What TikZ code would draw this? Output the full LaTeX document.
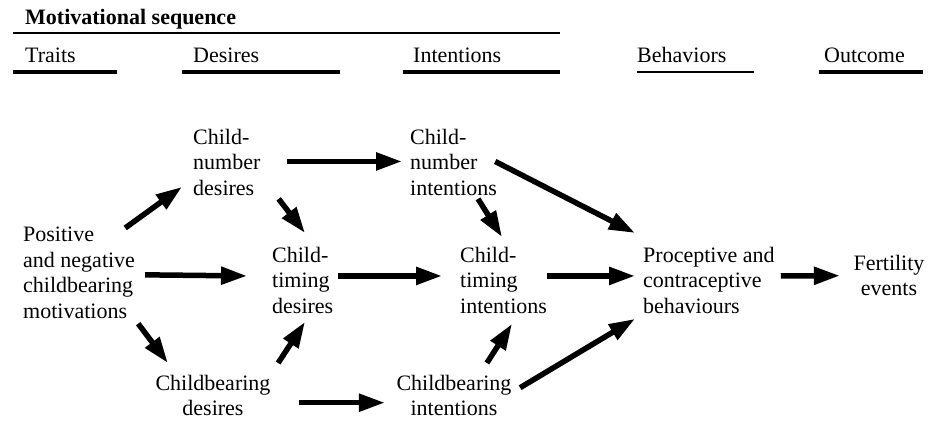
\documentclass[tikz,border=0pt]{standalone}
\usepackage{fontspec}
\setmainfont{Liberation Serif}
\usetikzlibrary{arrows.meta}

\begin{document}
\begin{tikzpicture}[x=1pt,y=-1pt,
  lbl/.style={font=\fontsize{22}{25.5}\selectfont, inner sep=0pt, align=left, anchor=north west},
  clbl/.style={lbl, align=center, anchor=north},
  hdr/.style={font=\fontsize{22}{25.5}\selectfont, inner sep=0pt, anchor=base west},
  arr/.style={line width=5.5pt, -{Triangle[length=26pt,width=17pt]}}]
\useasboundingbox (0,0) rectangle (933,420);

\node[hdr,font=\fontsize{22}{25.5}\selectfont\bfseries] (title) at (25,25) {Motivational sequence};
\node[hdr] (traits) at (25,63) {Traits};
\node[hdr] (desires) at (193,63) {Desires};
\node[hdr] (intentions) at (413,63) {Intentions};
\node[hdr] (behaviors) at (637,63) {Behaviors};
\node[hdr] (outcome) at (824,63) {Outcome};

\path[draw,line width=1.5pt] (13,33) -- (560,33);
\path[draw,line width=4pt] (13,72) -- (117,72);
\path[draw,line width=4pt] (182,72) -- (340,72);
\path[draw,line width=4pt] (403,72) -- (560,72);
\path[draw,line width=2.5pt] (637,72) -- (754,72);
\path[draw,line width=4.5pt] (819,72) -- (923,72);

\node[lbl] (motiv) at (23,227) {Positive\\and negative\\childbearing\\motivations};
\node[lbl] (numdes) at (193,129) {Child-\\number\\desires};
\node[lbl] (timdes) at (272,247) {Child-\\timing\\desires};
\node[clbl] (beardes) at (213,375) {Childbearing\\desires};
\node[lbl] (numint) at (410,129) {Child-\\number\\intentions};
\node[lbl] (timint) at (460,247) {Child-\\timing\\intentions};
\node[clbl] (bearint) at (454,375) {Childbearing\\intentions};
\node[lbl] (pro) at (643,247) {Proceptive and\\contraceptive\\behaviours};
\node[clbl] (fert) at (889,255) {Fertility\\events};

\path[draw,arr] ([shift={(-10,1)}]motiv.north east) -- ([shift={(-11,-9)}]numdes.south west);
\path[draw,arr] ([shift={(10,2)}]motiv.east) -- ([shift={(-25,-4.5)}]timdes.west);
\path[draw,arr] ([shift={(3,5)}]motiv.south east) -- ([shift={(12.5,-12)}]beardes.north west);
\path[draw,arr] ([shift={(18,3)}]numdes.south east) -- ([shift={(33,-14)}]timdes.north west);
\path[draw,arr] ([shift={(7.5,-12)}]beardes.north east) -- ([shift={(33,8)}]timdes.south west);
\path[draw,arr] ([shift={(26,-1)}]numdes.east) -- ([shift={(-8,-1)}]numint.west);
\path[draw,arr] ([shift={(5,-4.5)}]timdes.east) -- ([shift={(-18,-4.5)}]timint.west);
\path[draw,arr] ([shift={(28.5,7)}]beardes.east) -- ([shift={(-11.5,7)}]bearint.west);
\path[draw,arr] ([shift={(68,3)}]numint.south west) -- ([shift={(42,-10)}]timint.north west);
\path[draw,arr] ([shift={(90.5,-12)}]bearint.north west) -- ([shift={(52,10)}]timint.south west);
\path[draw,arr] ([shift={(-2,-1)}]numint.east) -- ([shift={(-8,-14)}]pro.north west);
\path[draw,arr] ([shift={(0,-4.5)}]timint.east) -- ([shift={(-8,-4.5)}]pro.west);
\path[draw,arr] ([shift={(8.5,-8)}]bearint.east) -- ([shift={(-8,5)}]pro.south west);
\path[draw,arr] ([shift={(6,-4.5)}]pro.east) -- ([shift={(-13.5,0)}]fert.west);

\end{tikzpicture}
\end{document}
